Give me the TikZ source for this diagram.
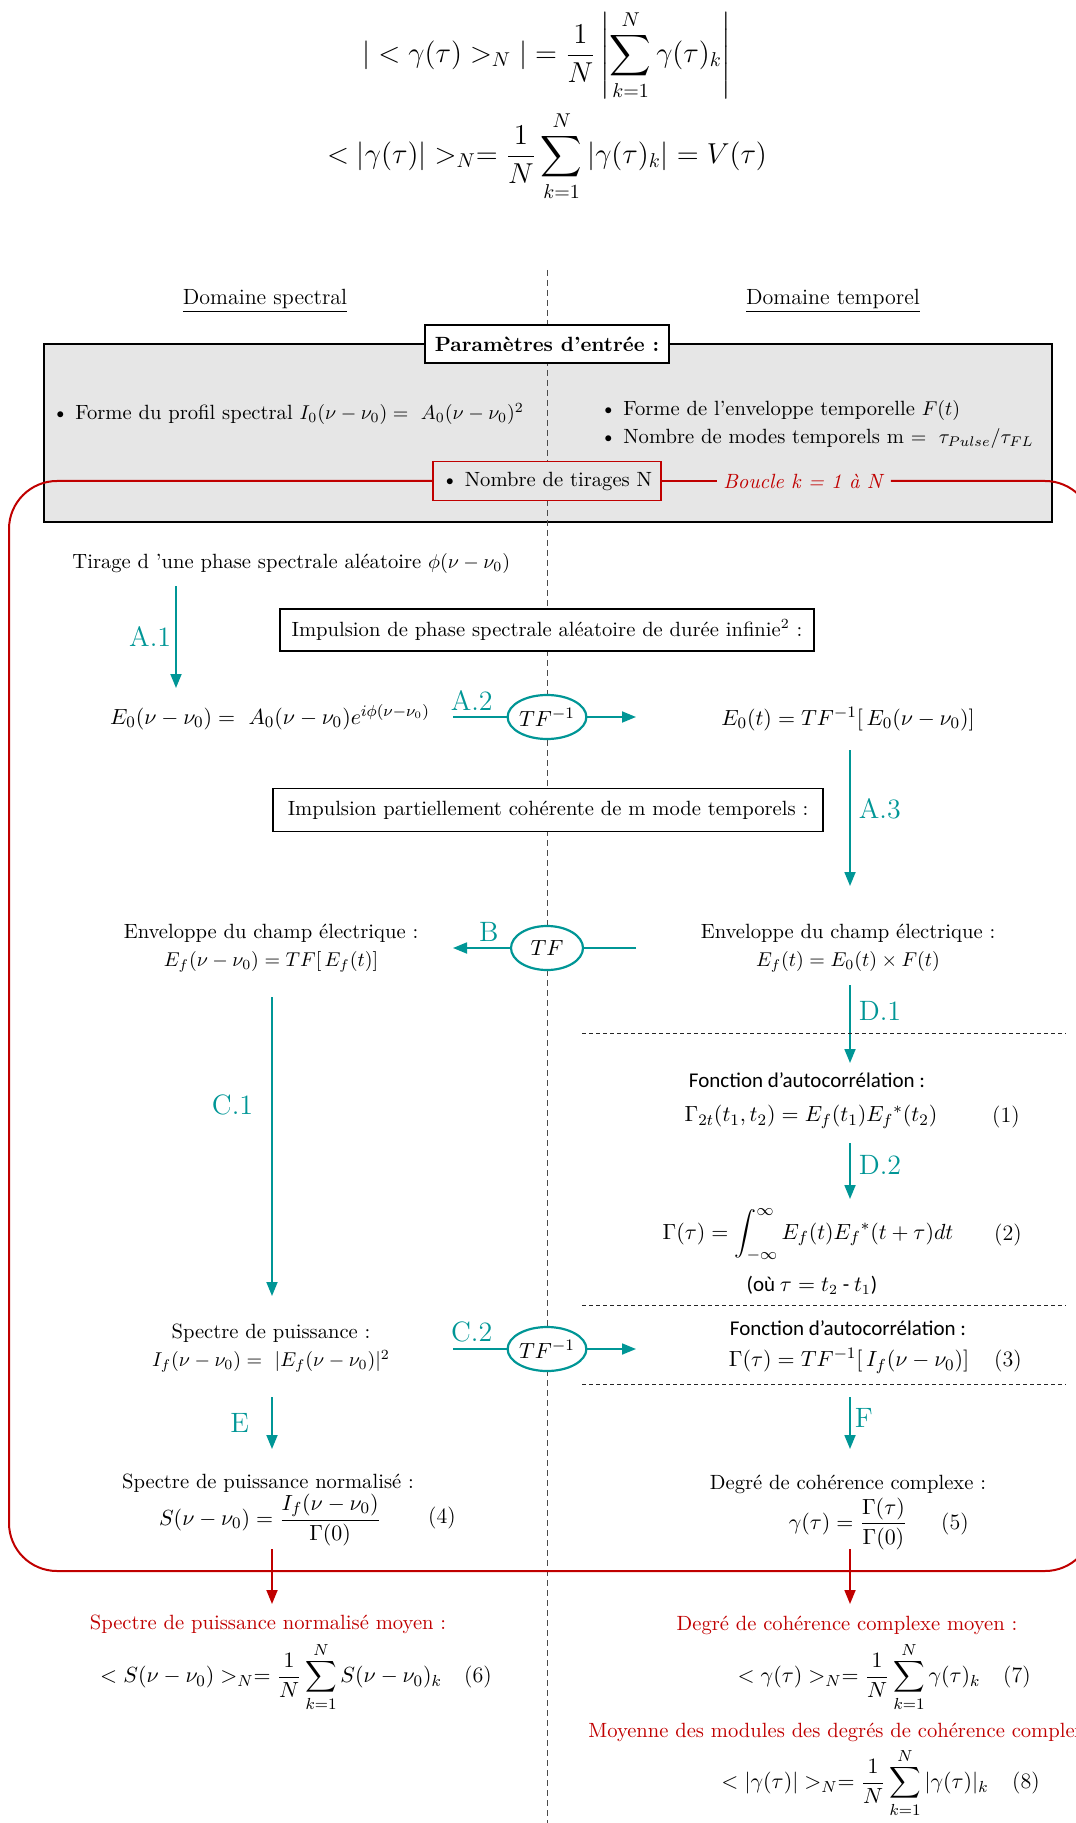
\documentclass[tikz,border=0pt]{standalone}
\usepackage{amsmath}
\usepackage{fontspec}
\usepackage{xcolor}
\usetikzlibrary{arrows.meta, positioning, shapes.geometric}
\newfontfamily\calib{Carlito}
\definecolor{flowteal}{RGB}{0, 150, 150}
\definecolor{loopred}{RGB}{192, 0, 0}
\definecolor{paramgray}{RGB}{230, 230, 230}

\begin{document}
\begin{tikzpicture}[x=0.5pt, y=-0.5pt,
  txt/.style={inner sep=1pt, font=\fontsize{10.3}{14}\selectfont, align=center},
  mathtxt/.style={inner sep=1pt, font=\fontsize{11}{14}\selectfont},
  sanstxt/.style={inner sep=1pt, font=\calib\fontsize{10.5}{13}\selectfont},
  redtxt/.style={txt, text=loopred},
  framebox/.style={draw=black, line width=0.8pt, fill=white, font=\fontsize{10.3}{14}\selectfont, inner sep=0pt},
  tfoval/.style={ellipse, draw=flowteal, line width=1.1pt, fill=white, minimum width=36pt, minimum height=22pt, inner sep=0pt, font=\fontsize{11}{13}\selectfont},
  tline/.style={flowteal, line width=0.9pt},
  tarrow/.style={-{Triangle[length=7pt, width=5.5pt]}, flowteal, line width=0.9pt},
  redarrow/.style={-{Triangle[length=7pt, width=5.5pt]}, loopred, line width=0.9pt},
  loopline/.style={loopred, line width=1pt},
  steplab/.style={text=flowteal, font=\fontsize{14}{16}\selectfont, inner sep=1pt},
  sepline/.style={line width=0.5pt, black!85, dash pattern=on 2pt off 1.5pt},
  axisline/.style={line width=0.5pt, black!70, dash pattern=on 3pt off 2pt}
]
\useasboundingbox (0,0) rectangle (1075,1823);

% Formules du haut
\node[font=\fontsize{14}{17}\selectfont] (modmoy) at (547,55) {$\displaystyle |<\gamma(\tau)>_N| = \frac{1}{N}\left|\sum_{k=1}^{N}\gamma(\tau)_k\right|$};
\node[font=\fontsize{14}{17}\selectfont] (moymod) at (547,156) {$\displaystyle <|\gamma(\tau)|>_N = \frac{1}{N}\sum_{k=1}^{N}|\gamma(\tau)_k| = V(\tau)$};

% Domaines
\node[txt, font=\fontsize{11}{14}\selectfont] (domspec) at (265,301) {\underline{Domaine spectral}};
\node[txt, font=\fontsize{11}{14}\selectfont] (domtemp) at (833,301) {\underline{Domaine temporel}};

% Parametres d'entree
\node[draw, line width=1pt, fill=paramgray, minimum width=504pt, minimum height=89pt, inner sep=0pt] (entree) at (548,433) {};
\coordinate (axtop) at (547,270);
\coordinate (axbot) at (547,1823);
\draw[axisline] (axtop) -- (axbot);
\node[framebox, minimum width=122pt, minimum height=19pt] (titre) at (547,344) {\textbf{Paramètres d’entrée :}};
\node[txt, anchor=west] (profil) at (50,414) {\textbullet\ Forme du profil spectral $I_0(\nu-\nu_0) =\ A_0(\nu-\nu_0)^2$};
\node[txt, anchor=west] (enveloppe) at (598,411) {\textbullet\ Forme de l’enveloppe temporelle $F(t)$};
\node[txt, anchor=west] (modes) at (598,439) {\textbullet\ Nombre de modes temporels m $=\ \tau_{Pulse}/\tau_{FL}$};
\node[framebox, draw=loopred, fill=paramgray, minimum width=114pt, minimum height=19.5pt] (tirages) at (547,481) {\textbullet\ Nombre de tirages N};
\node[txt, text=loopred, fill=paramgray, inner xsep=3pt] (boucle) at (804,481) {\textit{Boucle k = 1 à N}};

% Boucle k = 1 a N
\coordinate (lnw) at (9,481);
\coordinate (lsw) at (9,1571);
\coordinate (lse) at (1093,1571);
\coordinate (lne) at (1093,481);
\draw[loopline, rounded corners=24pt] (tirages.west) -- (lnw) -- (lsw) -- (lse) -- (lne) -- (boucle.east);
\draw[loopline] (tirages.east) -- (boucle.west);

% Tirage de la phase
\node[txt, anchor=west] (tirage) at (70,563) {Tirage d ’une phase spectrale aléatoire $\phi(\nu-\nu_0)$};
\coordinate (a1s) at (176,586);
\coordinate (a1e) at (176,688);
\draw[tarrow] (a1s) -- node[steplab, left=1pt] {A.1} (a1e);
\node[framebox, minimum width=267pt, minimum height=21pt] (infinie) at (547,630) {Impulsion de phase spectrale aléatoire de durée infinie$^2$ :};

% A.2
\node[mathtxt] (E0s) at (270,717) {$E_0(\nu-\nu_0) =\ A_0(\nu-\nu_0)e^{i\phi(\nu-\nu_0)}$};
\node[tfoval] (tfa) at (547,717) {$TF^{-1}$};
\node[mathtxt] (E0t) at (848,719) {$E_0(t) = TF^{-1}[\,E_0(\nu-\nu_0)]$};
\coordinate (a2s) at (453,717);
\coordinate (a2e) at (636,717);
\draw[tline] (a2s) -- node[steplab, above=2pt, pos=0.35] {A.2} (tfa.west);
\draw[tarrow] (tfa.east) -- (a2e);

% A.3
\coordinate (a3s) at (850,750);
\coordinate (a3e) at (850,886);
\draw[tarrow] (a3s) -- node[steplab, right=3pt, pos=0.43] {A.3} (a3e);
\node[framebox, minimum width=275pt, minimum height=21.5pt] (partielle) at (548,810) {Impulsion partiellement cohérente de m mode temporels :};

% B
\node[txt] (Efs) at (271,948) {Enveloppe du champ électrique :\\ $E_f(\nu-\nu_0) = TF[\,E_f(t)]$};
\node[tfoval] (tfb) at (547,948) {$TF$};
\node[txt] (Eft) at (848,948) {Enveloppe du champ électrique :\\ $E_f(t) = E_0(t)\times F(t)$};
\coordinate (bs) at (636,948);
\coordinate (be) at (453,948);
\draw[tline] (bs) -- (tfb.east);
\draw[tarrow] (tfb.west) -- node[steplab, above=2pt, pos=0.37] {B} (be);

% D.1
\coordinate (d1s) at (850,985);
\coordinate (d1e) at (850,1063);
\draw[tarrow] (d1s) -- node[steplab, right=3pt, pos=0.33] {D.1} (d1e);
\coordinate (sep1w) at (582,1033);
\coordinate (sep1e) at (1066,1033);
\draw[sepline] (sep1w) -- (sep1e);
\node[sanstxt] (autoA) at (807,1080) {Fonction d’autocorrélation :};
\node[mathtxt] (gam2t) at (811,1117) {$\Gamma_{2t}(t_1,t_2) = E_f(t_1){E_f}^{*}(t_2)$};
\node[mathtxt] (n1) at (1006,1117) {(1)};

% D.2
\coordinate (d2s) at (850,1143);
\coordinate (d2e) at (850,1199);
\draw[tarrow] (d2s) -- node[steplab, right=3pt, pos=0.4] {D.2} (d2e);
\node[mathtxt] (gamint) at (808,1235) {$\displaystyle \Gamma(\tau) = \int_{-\infty}^{\infty} E_f(t){E_f}^{*}(t+\tau)dt$};
\node[mathtxt] (n2) at (1008,1235) {(2)};
\node[sanstxt] (ou) at (812,1285) {(où $\tau = t_2$ - $t_1$)};
\coordinate (sep2w) at (582,1305);
\coordinate (sep2e) at (1066,1305);
\draw[sepline] (sep2w) -- (sep2e);
\node[sanstxt] (autoB) at (848,1328) {Fonction d’autocorrélation :};
\node[mathtxt] (gam3) at (849,1361) {$\Gamma(\tau) = TF^{-1}[\,I_f(\nu-\nu_0)]$};
\node[mathtxt] (n3) at (1008,1361) {(3)};
\coordinate (sep3w) at (582,1384);
\coordinate (sep3e) at (1066,1384);
\draw[sepline] (sep3w) -- (sep3e);

% F
\coordinate (fs) at (850,1397);
\coordinate (fe) at (850,1449);
\draw[tarrow] (fs) -- node[steplab, right=1pt, pos=0.4] {F} (fe);

% C.1
\coordinate (c1s) at (272,997);
\coordinate (c1e) at (272,1296);
\draw[tarrow] (c1s) -- node[steplab, left=8pt, pos=0.36] {C.1} (c1e);

% C.2
\node[txt] (spectre) at (271,1348) {Spectre de puissance :\\ $I_f(\nu-\nu_0) =\ |E_f(\nu-\nu_0)|^2$};
\node[tfoval] (tfc) at (547,1349) {$TF^{-1}$};
\coordinate (c2s) at (453,1349);
\coordinate (c2e) at (636,1349);
\draw[tline] (c2s) -- node[steplab, above=2pt, pos=0.35] {C.2} (tfc.west);
\draw[tarrow] (tfc.east) -- (c2e);

% E
\coordinate (es) at (272,1397);
\coordinate (ee) at (272,1449);
\draw[tarrow] (es) -- node[steplab, left=10pt, pos=0.5] {E} (ee);

% Normalisation
\node[txt] (specnorm) at (268,1483) {Spectre de puissance normalisé :};
\node[mathtxt] (eqS) at (270,1520) {$S(\nu-\nu_0) = \dfrac{I_f(\nu-\nu_0)}{\Gamma(0)}$};
\node[mathtxt] (n4) at (442,1518) {(4)};
\node[txt] (degre) at (848,1484) {Degré de cohérence complexe :};
\node[mathtxt] (eqG) at (848,1524) {$\gamma(\tau) = \dfrac{\Gamma(\tau)}{\Gamma(0)}$};
\node[mathtxt] (n5) at (955,1524) {(5)};

% Moyennes sur N tirages
\coordinate (rls) at (272,1549);
\coordinate (rle) at (272,1604);
\coordinate (rrs) at (850,1549);
\coordinate (rre) at (850,1604);
\draw[redarrow] (rls) -- (rle);
\draw[redarrow] (rrs) -- (rre);
\node[redtxt] (moyS) at (268,1624) {Spectre de puissance normalisé moyen :};
\node[mathtxt] (eqSm) at (271,1677) {$\displaystyle <S(\nu-\nu_0)>_N = \frac{1}{N}\sum_{k=1}^{N} S(\nu-\nu_0)_k$};
\node[mathtxt] (n6) at (478,1677) {(6)};
\node[redtxt] (moyG) at (847,1625) {Degré de cohérence complexe moyen :};
\node[mathtxt] (eqGm) at (859,1677) {$\displaystyle <\gamma(\tau)>_N = \frac{1}{N}\sum_{k=1}^{N}\gamma(\tau)_k$};
\node[mathtxt] (n7) at (1017,1677) {(7)};
\node[redtxt, anchor=west] (moyM) at (586,1732) {Moyenne des modules des degrés de cohérence complexe};
\node[mathtxt] (eqMm) at (855,1783) {$\displaystyle <|\gamma(\tau)|>_N = \frac{1}{N}\sum_{k=1}^{N}|\gamma(\tau)|_k$};
\node[mathtxt] (n8) at (1026,1783) {(8)};
\end{tikzpicture}
\end{document}
